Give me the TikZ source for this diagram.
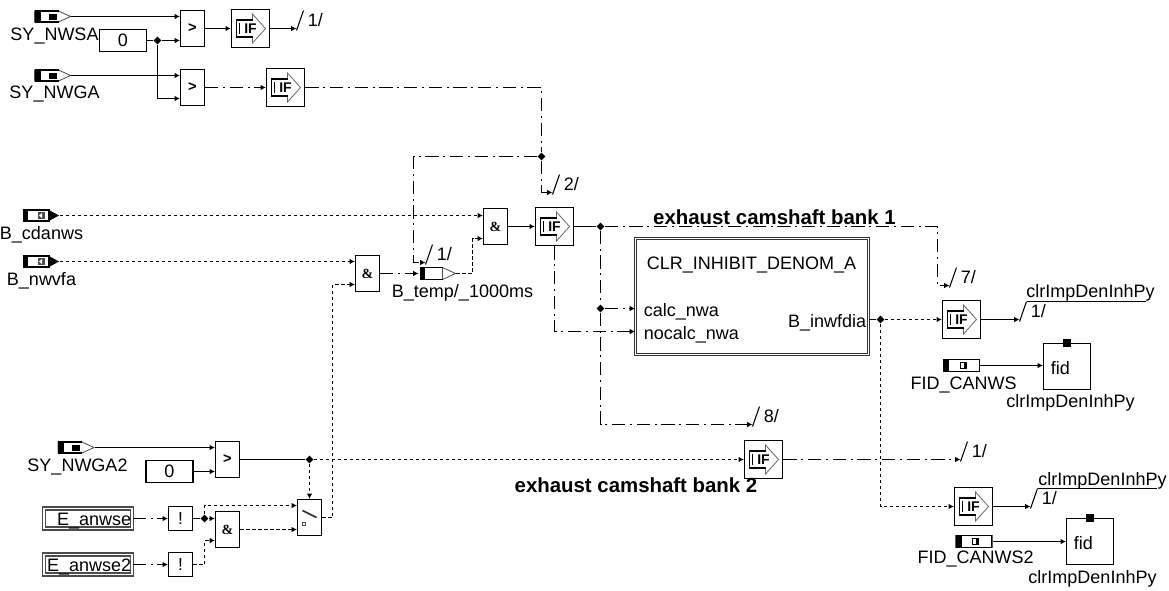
\documentclass[tikz,border=0pt]{standalone}
\usepackage{fontspec}
\setmainfont{Liberation Sans}
\newfontfamily\gatefont{Liberation Serif}
\usetikzlibrary{arrows.meta,positioning,calc,shapes.geometric}
\newcommand{\busmark}[3]{
  \coordinate (#1) at (#2);
  \draw[sig] ($(#1)+(0,2)$) -- ($(#1)+(7,-18)$) coordinate (#1top);
  \node[anchor=west,inner sep=0pt] (#1txt) at ($(#1)+(11,-8)$) {#3};
}
\newcommand{\ifblock}[2]{
  \node[ifbox] (#1) at (#2) {};
  \pic at (#1.center) {ifglyph};
  \node[iftext] (#1txt) at (#1.center) {IF};
}
\tikzset{
  sig/.style={line width=0.8pt},
  sigdash/.style={sig,dash pattern=on 2.6pt off 1.9pt},
  sigdot/.style={sig,dash pattern=on 10pt off 3.5pt on 1.5pt off 3.5pt},
  arr/.style={-{Latex[length=4pt,width=4.2pt]}},
  lbl/.style={inner sep=0pt,text height=9.8pt,text depth=0pt},
  gate/.style={draw,line width=0.8pt,minimum width=18pt,minimum height=27pt,inner sep=0pt,fill=white,font=\fontsize{11}{13}\selectfont\bfseries},
  andgate/.style={gate,font=\gatefont\fontsize{10.5}{13}\selectfont\bfseries},
  notgate/.style={draw,line width=0.8pt,minimum width=18pt,minimum height=18pt,inner sep=0pt,font=\fontsize{13}{15}\selectfont},
  constbox/.style={draw,line width=0.8pt,minimum width=35.25pt,minimum height=16.5pt,inner sep=0pt},
  junct/.style={diamond,fill=black,inner sep=0pt,minimum width=6pt,minimum height=6pt},
  envbox/.style={draw=black!70,double=white,double distance=1pt,line width=1.2pt,minimum width=66pt,minimum height=15pt,inner sep=0pt},
  fidbox/.style={draw,line width=0.8pt,minimum width=35.25pt,minimum height=34.5pt,inner sep=0pt},
  fidpin/.style={fill=black,inner sep=0pt,minimum width=6pt,minimum height=6pt},
  ifbox/.style={draw,line width=1pt,minimum width=28.5pt,minimum height=28.5pt,inner sep=0pt},
  iftext/.style={inner sep=0pt,font=\fontsize{10.5}{12}\selectfont\bfseries},
  pics/ifglyph/.style={code={
    \draw[black!60,line width=0.6pt] (2,-8.5) -- (2,-14.5) -- (15,0) -- (2,14.5) -- (2,8.5);
    \draw[line width=0.9pt] (2,-8.5) -- (-14,-8.5) -- (-14,8.5) -- (2,8.5);
    \draw[line width=0.6pt] (-11,-5.5) -- (-11,5.5);
  }},
  sysrc/.style={minimum width=28pt,minimum height=10.5pt,inner sep=0pt,
    path picture={
      \begin{scope}[shift={(path picture bounding box.center)}]
        \draw[black!70,line width=0.6pt,fill=white] (-18,-5.5) -- (6,-5.5) -- (18,0) -- (6,5.5) -- (-18,5.5) -- cycle;
        \draw[line width=0.8pt] (-18,-5.5) -- (6,-5.5) (-18,5.5) -- (6,5.5);
        \fill (-18,-5.5) rectangle (-12,5.5);
        \fill (-4,-3) rectangle (4,3);
      \end{scope}}},
  bsrc/.style={minimum width=28pt,minimum height=10.5pt,inner sep=0pt,
    path picture={
      \begin{scope}[shift={(path picture bounding box.center)}]
        \draw[line width=0.8pt] (-17.5,-5.5) rectangle (8,5.5);
        \fill (-17.5,-5.5) rectangle (-13,5.5);
        \fill (7,-6) -- (18,0) -- (7,6) -- cycle;
        \fill[black!70] (-3.5,-3.5) rectangle (4,3.5);
        \fill[white] (-2,0) -- (1,-2.5) -- (1,2.5) -- cycle;
      \end{scope}}},
  tempsrc/.style={minimum width=28pt,minimum height=10.5pt,inner sep=0pt,
    path picture={
      \begin{scope}[shift={(path picture bounding box.center)}]
        \draw[black!70,line width=0.6pt,fill=white] (5,-6) -- (18,0) -- (5,6) -- cycle;
        \draw[line width=0.8pt] (-18,-6) -- (5,-6) (-18,6) -- (5,6);
        \fill (-18,-6) rectangle (-13,6);
      \end{scope}}},
  fidsrc/.style={minimum width=28pt,minimum height=10.5pt,inner sep=0pt,
    path picture={
      \begin{scope}[shift={(path picture bounding box.center)}]
        \draw[line width=0.8pt] (-18,-6) rectangle (18,6);
        \fill (-18,-6) rectangle (-12.5,6);
        \fill (-2,-3.5) rectangle (5,3.5);
        \fill[white] (-1,-2.5) rectangle (2,2);
      \end{scope}}},
}
\begin{document}
\begin{tikzpicture}[x=0.75pt,y=-0.75pt,font=\fontsize{13.5}{15}\selectfont, every node/.style={align=center}]
  \useasboundingbox (0,0) rectangle (1169,590);
  \begin{scope}[shift={(0.5,0.5)}]

  \node[sysrc] (srcSA) at (52,16) {};
  \node[lbl] (lblSA) at (54,33.5) {SY\_NWSA};
  \node[sysrc] (srcSB) at (52,75) {};
  \node[lbl] (lblSB) at (54,91.5) {SY\_NWGA};
  \node[constbox] (cstA) at (122.5,40) {0};
  \node[junct] (jA) at (157,40) {};
  \node[gate] (gtA) at (192,28) {>};
  \node[gate] (gtB) at (192,87) {>};
  \ifblock{ifA}{250,28}
  \ifblock{ifB}{285,87}
  \busmark{mkA}{296,28}{1/}

  \draw[sig,arr] (srcSA.east) -- (gtA.west |- srcSA.east);
  \draw[sig,arr] (srcSB.east) -- (gtB.west |- srcSB.east);
  \draw[sig] (cstA.east) -- (jA);
  \draw[sig,arr] (jA) -- (gtA.west |- jA);
  \draw[sig,arr] (jA) |- ($(gtB.west)+(0,11)$);
  \draw[sig,arr] (gtA.east) -- (ifA.west);
  \draw[sig,arr] (ifA.east) -- (mkA);
  \draw[sigdot,arr] (gtB.east) -- (ifB.west);

  \node[junct] (jB) at (541,156) {};
  \draw[sigdot] (ifB.east) -| (jB);
  \busmark{mkB}{425,262}{1/}
  \busmark{mkC}{552,192}{2/}
  \draw[sigdot,arr] (jB) -| (413,262) -- (mkB);
  \draw[sigdot,arr] (jB) |- (mkC);

  \node[bsrc] (srcC) at (40.5,215) {};
  \node[lbl] (lblC) at (41,232) {B\_cdanws};
  \node[bsrc] (srcD) at (40.5,261) {};
  \node[lbl] (lblD) at (41,278.5) {B\_nwvfa};
  \node[andgate] (gtC) at (367,273) {\&};
  \node[tempsrc] (srcT) at (437,273) {};
  \node[lbl] (lblT) at (462,290) {B\_temp/\_1000ms};
  \node[andgate] (gtD) at (495,226) {\&};
  \ifblock{ifC}{554,226}
  \node[junct] (jC) at (600,226) {};
  \node[junct] (jD) at (600,308) {};

  \draw[sigdash,arr] (srcC.east) -- (gtD.west |- srcC.east);
  \draw[sigdash,arr] (srcD.east) -- (gtC.west |- srcD.east);
  \draw[sigdot,arr] (gtC.east) -- (srcT.west);
  \draw[sigdash,arr] (srcT.east) -- (472,273) |- ($(gtD.west)+(0,12)$);
  \draw[sig,arr] (gtD.east) -- (ifC.west);
  \draw[sig] (ifC.east) -- (jC);

  \node[draw=black!80,double=white,double distance=1.2pt,line width=0.7pt,minimum width=174.75pt,minimum height=87pt,inner sep=0pt] (blk) at (751.5,296) {};
  \node[lbl] (blkT) at (751,262) {CLR\_INHIBIT\_DENOM\_A};
  \node[lbl,anchor=west] (inCalc) at (643,309) {calc\_nwa};
  \node[lbl,anchor=west] (inNo) at (643,332) {nocalc\_nwa};
  \node[lbl,anchor=east] (outB) at (866,320.5) {B\_inwfdia};
  \node[font=\fontsize{15.3}{17}\selectfont\bfseries,inner sep=0pt] (ttlA) at (774,217) {exhaust camshaft bank 1};
  \node[font=\fontsize{15.3}{17}\selectfont\bfseries,inner sep=0pt] (ttlB) at (635.5,485) {exhaust camshaft bank 2};
  \node[junct] (jE) at (880,319) {};

  \busmark{mkD}{949,285}{7/}
  \busmark{mkE}{752,424}{8/}
  \draw[sigdot,arr] (jC) -| (937,285) -- (mkD);
  \draw[sigdot] (jC) -- (jD);
  \draw[sigdot,arr] (jD) |- (mkE);
  \draw[sigdot,arr] (jD) -- (blk.west |- jD);
  \draw[sigdot,arr] (ifC.south) |- ($(blk.west)+(0,35)$);
  \draw[sig] (blk.east |- jE) -- (jE);

  \ifblock{ifD}{961,319}
  \busmark{mkF}{1019,319}{1/}
  \node[lbl] (lblF) at (1090,290) {clrImpDenInhPy};
  \node[fidsrc] (srcF) at (961,365) {};
  \node[lbl] (lblFs) at (963,382.5) {FID\_CANWS};
  \node[fidbox] (fidA) at (1066.5,366) {};
  \node[fidpin] (pinA) at (fidA.north) {};
  \node[lbl,anchor=west] (fidAt) at (1050,367) {fid};
  \node[lbl] (lblFa) at (1070,400.5) {clrImpDenInhPy};
  \draw[sigdash,arr] (jE) -- (ifD.west);
  \draw[sig,arr] (ifD.east) -- (mkF);
  \draw[sig] (mkFtop) -- (1145,301);
  \draw[sig,arr] (srcF.east) -- (fidA.west |- srcF.east);

  \node[sysrc] (srcG) at (75.5,447) {};
  \node[lbl] (lblG) at (77,464.5) {SY\_NWGA2};
  \node[constbox] (cstB) at (169,471) {0};
  \node[gate] (gtE) at (227,459) {>};
  \node[junct] (jF) at (309,459) {};
  \node[gate,path picture={
      \begin{scope}[shift={(path picture bounding box.center)}]
        \draw[line width=1.3pt,black!80] (-7,-7) -- (7,0);
        \draw[black!70,line width=0.7pt] (-7,4.5) rectangle (-4,7.5);
      \end{scope}}] (swt) at (309,517) {};
  \node[envbox] (envA) at (87.5,518) {};
  \node[lbl,anchor=east] (envAt) at (131,518) {E\_anwse};
  \node[envbox] (envB) at (87.5,564) {};
  \node[lbl,anchor=east] (envBt) at (131,564) {E\_anwse2};
  \node[notgate] (notA) at (180,518) {!};
  \node[notgate] (notB) at (180,564) {!};
  \node[junct] (jG) at (204,518) {};
  \node[andgate] (gtF) at (227,529) {\&};
  \ifblock{ifF}{763,459}
  \busmark{mkG}{960,459}{1/}

  \draw[sig,arr] (srcG.east) -- (gtE.west |- srcG.east);
  \draw[sig,arr] (cstB.east) -- (gtE.west |- cstB.east);
  \draw[sig] (gtE.east) -- (jF);
  \draw[sigdash,arr] (jF) -- (ifF.west);
  \draw[sigdash,arr] (jF) -- (swt.north);
  \draw[sigdot,arr] (ifF.east) -- (mkG);
  \draw[sigdot,arr] (envA.east) -- (notA.west);
  \draw[sigdot,arr] (envB.east) -- (notB.west);
  \draw[sig] (notA.east) -- (jG);
  \draw[sig,arr] (jG) -- (gtF.west |- jG);
  \draw[sigdash,arr] (jG) |- ($(swt.west)+(0,-12)$);
  \draw[sigdash,arr] (gtF.east) -- (swt.west |- gtF.east);
  \draw[sigdash,arr] (notB.east) -| (204,540) -- ($(gtF.west)+(0,11)$);
  \draw[sigdash,arr] (swt.east) -| (332,284) -- ($(gtC.west)+(0,11)$);

  \ifblock{ifE}{973,506}
  \busmark{mkH}{1030,506}{1/}
  \node[lbl] (lblH) at (1102,478) {clrImpDenInhPy};
  \node[fidsrc] (srcH) at (973.5,541) {};
  \node[lbl] (lblHs) at (975,556.5) {FID\_CANWS2};
  \node[fidbox] (fidB) at (1089.5,541) {};
  \node[fidpin] (pinB) at (fidB.north) {};
  \node[lbl,anchor=west] (fidBt) at (1073,542) {fid};
  \node[lbl] (lblHa) at (1092,576.5) {clrImpDenInhPy};
  \draw[sigdash,arr] (jE) |- (ifE.west);
  \draw[sig,arr] (ifE.east) -- (mkH);
  \draw[sig] (mkHtop) -- (1156,488);
  \draw[sig,arr] (srcH.east) -- (fidB.west |- srcH.east);
  \end{scope}
\end{tikzpicture}
\end{document}
